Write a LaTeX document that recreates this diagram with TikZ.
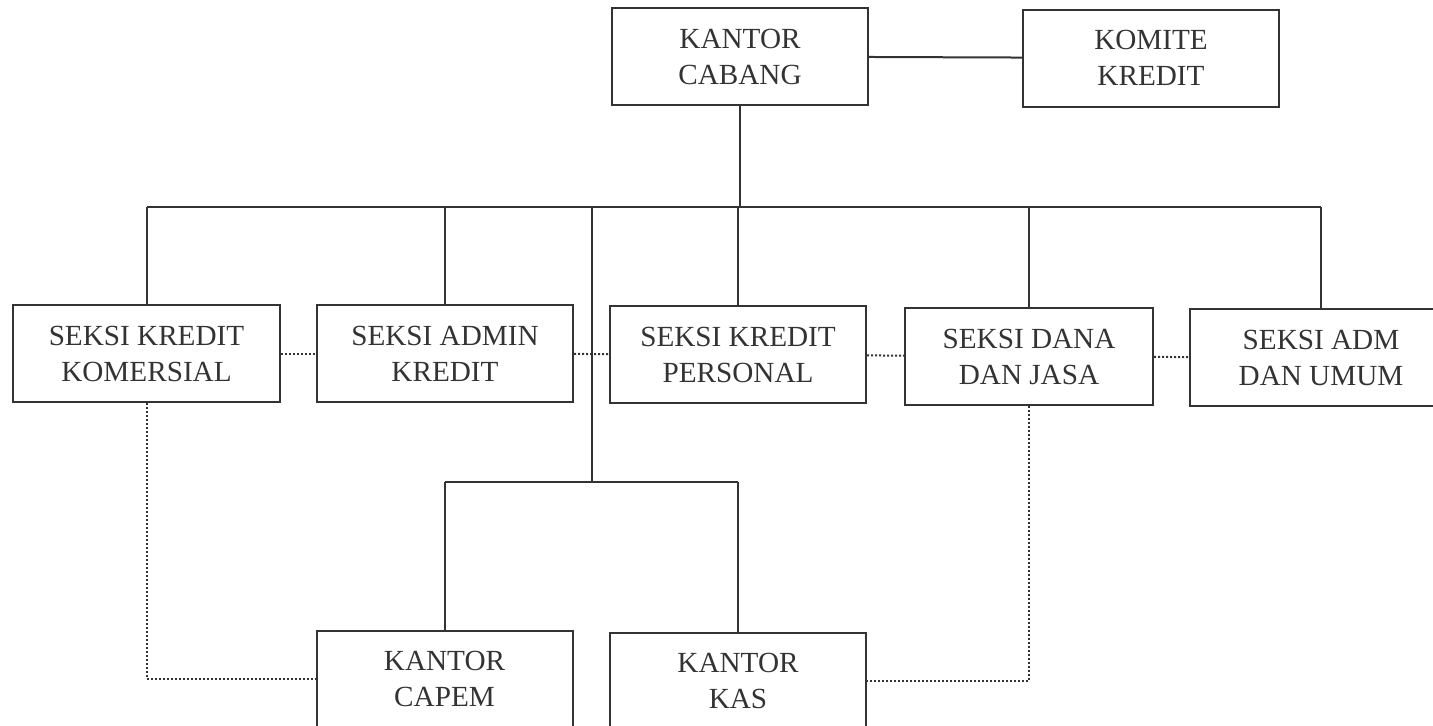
\documentclass[tikz,border=0pt]{standalone}
\usepackage{fontspec}
\setmainfont{Liberation Serif}
\usepackage{tikz}
\usetikzlibrary{positioning,calc}
\definecolor{clLine}{HTML}{333333}
\tikzset{
  unit/.style={rectangle, draw=clLine, line width=1pt, align=center, text=clLine,
               minimum width=128pt, minimum height=48.5pt, inner sep=2pt,
               font=\fontsize{14.6}{18}\selectfont},
  link/.style={draw=clLine, line width=1pt},
  coord/.style={draw=clLine, line width=1pt, densely dotted},
}
\begin{document}
\begin{tikzpicture}[x=0.5pt, y=-0.5pt]
  \useasboundingbox (0,0) rectangle (1433,725);
  \clip (0,0) rectangle (1433,725);
  \node[unit] (cabang) at (740,56.5) {KANTOR\\CABANG};
  \node[unit] (komite) at (1151,58) {KOMITE\\KREDIT};
  \node[unit, minimum width=133.5pt] (komersial) at (146.5,353.5) {SEKSI KREDIT\\KOMERSIAL};
  \node[unit] (admin) at (445,353.5) {SEKSI ADMIN\\KREDIT};
  \node[unit] (personal) at (738,354.5) {SEKSI KREDIT\\PERSONAL};
  \node[unit, minimum width=124pt] (dana) at (1029,356.5) {SEKSI DANA\\DAN JASA};
  \node[unit, minimum width=131pt] (admum) at (1321,357.5) {SEKSI ADM\\DAN UMUM};
  \node[unit] (capem) at (444.5,679) {KANTOR\\CAPEM};
  \node[unit] (kas) at (738,681) {KANTOR\\KAS};
  \coordinate (bus) at (733,207);
  \coordinate (split) at (592,482);
  \draw[link] (cabang) -- (komite);
  \draw[link] (cabang) -- (cabang |- bus);
  \draw[link] (komersial |- bus) -- (admum |- bus);
  \foreach \n in {komersial,admin,personal,dana,admum} { \draw[link] (\n |- bus) -- (\n.north); }
  \draw[link] (split |- bus) -- (split);
  \draw[link] (capem |- split) -- (kas |- split);
  \foreach \n in {capem,kas} { \draw[link] (\n |- split) -- (\n.north); }
  \draw[coord] (komersial) -- (admin);
  \draw[coord] (admin) -- (personal);
  \draw[coord] (personal) -- (dana);
  \draw[coord] (dana) -- (admum);
  \draw[coord] (komersial.south) |- (capem.west);
  \draw[coord] (dana.south) |- (kas.east);
\end{tikzpicture}
\end{document}
